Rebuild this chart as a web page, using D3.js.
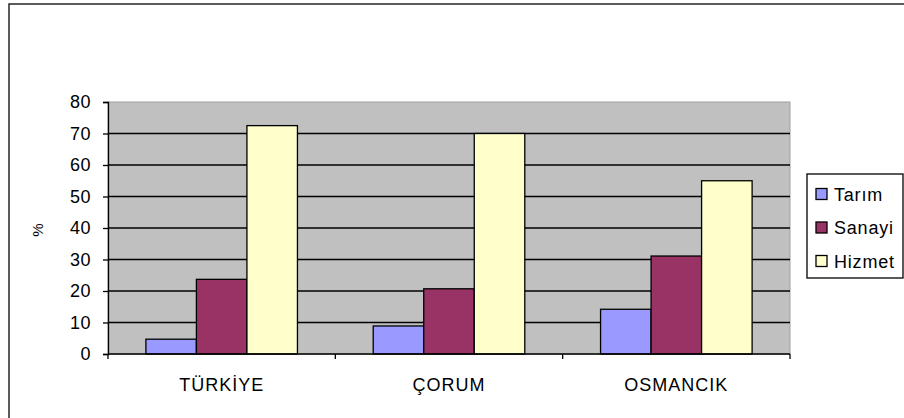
<!DOCTYPE html>
<html>
<head>
<meta charset="utf-8">
<script src="https://cdn.jsdelivr.net/npm/d3@7"></script>
<style>
  body { margin: 0; background: #fff; }
  text { font-family: "Liberation Sans", Arial, sans-serif; }
</style>
</head>
<body>
<div id="chart"></div>
<script>
// data
var categories = ["TÜRKİYE", "ÇORUM", "OSMANCIK"]
var seriesNames = ["Tarım", "Sanayi", "Hizmet"]
var tarim = [4.7, 8.9, 14.2]
var sanayi = [23.7, 20.7, 31.1]
var hizmet = [72.5, 70.0, 55.0]
var yTicks = [0, 10, 20, 30, 40, 50, 60, 70, 80]
var colors = ["#9999ff", "#993366", "#ffffcc"]

var width = 904, height = 418
var plot = { left: 108, top: 102, right: 790, bottom: 354 }

var svg = d3.select("#chart").append("svg")
  .attr("width", width)
  .attr("height", height)

// outer chart frame (cut off at right/bottom like the original)
svg.append("rect")
  .attr("x", 9).attr("y", 4)
  .attr("width", 910).attr("height", 430)
  .attr("fill", "#fff")
  .attr("stroke", "#333").attr("stroke-width", 1.6)

var x0 = d3.scaleBand()
  .domain(categories)
  .range([plot.left, plot.right])
  .paddingInner(0).paddingOuter(0)

var x1 = d3.scaleBand()
  .domain(seriesNames)
  .range([0, x0.bandwidth()])
  .paddingOuter(0.75).paddingInner(0)

var y = d3.scaleLinear().domain([0, 80]).range([plot.bottom, plot.top])

// plot background
svg.append("rect")
  .attr("x", plot.left).attr("y", plot.top)
  .attr("width", plot.right - plot.left).attr("height", plot.bottom - plot.top)
  .attr("fill", "#c0c0c0")
  .attr("stroke", "#a0a0a0").attr("stroke-width", 1)

// gridlines
svg.append("g").selectAll("line")
  .data(yTicks.filter(function(d) { return d > 0 && d < 80 }))
  .enter().append("line")
  .attr("x1", plot.left).attr("x2", plot.right)
  .attr("y1", function(d) { return y(d) }).attr("y2", function(d) { return y(d) })
  .attr("stroke", "#000").attr("stroke-width", 1.3)

// bars
var table = categories.map(function(c, i) {
  return { cat: c, values: [tarim[i], sanayi[i], hizmet[i]] }
})

svg.append("g").selectAll("g")
  .data(table)
  .enter().append("g")
  .attr("transform", function(d) { return "translate(" + x0(d.cat) + ",0)" })
  .selectAll("rect")
  .data(function(d) { return d.values.map(function(v, j) { return { name: seriesNames[j], value: v, j: j } }) })
  .enter().append("rect")
  .attr("x", function(d) { return x1(d.name) })
  .attr("y", function(d) { return y(d.value) })
  .attr("width", x1.bandwidth())
  .attr("height", function(d) { return y(0) - y(d.value) })
  .attr("fill", function(d) { return colors[d.j] })
  .attr("stroke", "#000").attr("stroke-width", 1.3)

// y axis
var yAxis = d3.axisLeft(y).tickValues(yTicks).tickSize(5).tickPadding(12)
var gy = svg.append("g").attr("transform", "translate(" + plot.left + ",0)").call(yAxis)
gy.select(".domain").attr("stroke", "#000").attr("stroke-width", 1.3)
gy.selectAll(".tick line").attr("stroke", "#000").attr("stroke-width", 1.3)
gy.selectAll("text").attr("font-size", 18).attr("fill", "#000")
  .attr("letter-spacing", "0.5px")
  .attr("font-family", "Liberation Sans, Arial, sans-serif")

// x axis
var gx = svg.append("g").attr("transform", "translate(0," + plot.bottom + ")")
gx.append("line")
  .attr("x1", plot.left).attr("x2", plot.right)
  .attr("stroke", "#000").attr("stroke-width", 1.3)
var bounds = categories.map(function(c) { return x0(c) }).concat([plot.right])
gx.selectAll("line.tk").data(bounds).enter().append("line")
  .attr("class", "tk")
  .attr("x1", function(d) { return d }).attr("x2", function(d) { return d })
  .attr("y1", 0).attr("y2", 5)
  .attr("stroke", "#000").attr("stroke-width", 1.3)
gx.selectAll("text").data(categories).enter().append("text")
  .attr("x", function(d) { return x0(d) + x0.bandwidth() / 2 })
  .attr("y", 37)
  .attr("text-anchor", "middle")
  .attr("font-size", 18)
  .attr("letter-spacing", "1px")
  .text(function(d) { return d })

// % label
svg.append("text")
  .attr("transform", "translate(43,230) rotate(-90)")
  .attr("text-anchor", "middle")
  .attr("font-size", 15)
  .text("%")

// legend
var lg = svg.append("g").attr("transform", "translate(807,174)")
lg.append("rect")
  .attr("width", 96).attr("height", 104)
  .attr("fill", "#fff").attr("stroke", "#000").attr("stroke-width", 1.3)
var item = lg.selectAll("g.item").data(seriesNames).enter().append("g")
  .attr("class", "item")
  .attr("transform", function(d, i) { return "translate(0," + (20 + i * 33.5) + ")" })
item.append("rect")
  .attr("x", 9).attr("y", -5.5)
  .attr("width", 11).attr("height", 11)
  .attr("fill", function(d, i) { return colors[i] })
  .attr("stroke", "#000").attr("stroke-width", 1.3)
item.append("text")
  .attr("x", 27).attr("y", 6.5)
  .attr("font-size", 18)
  .attr("letter-spacing", "0.8px")
  .text(function(d) { return d })
</script>
</body>
</html>
